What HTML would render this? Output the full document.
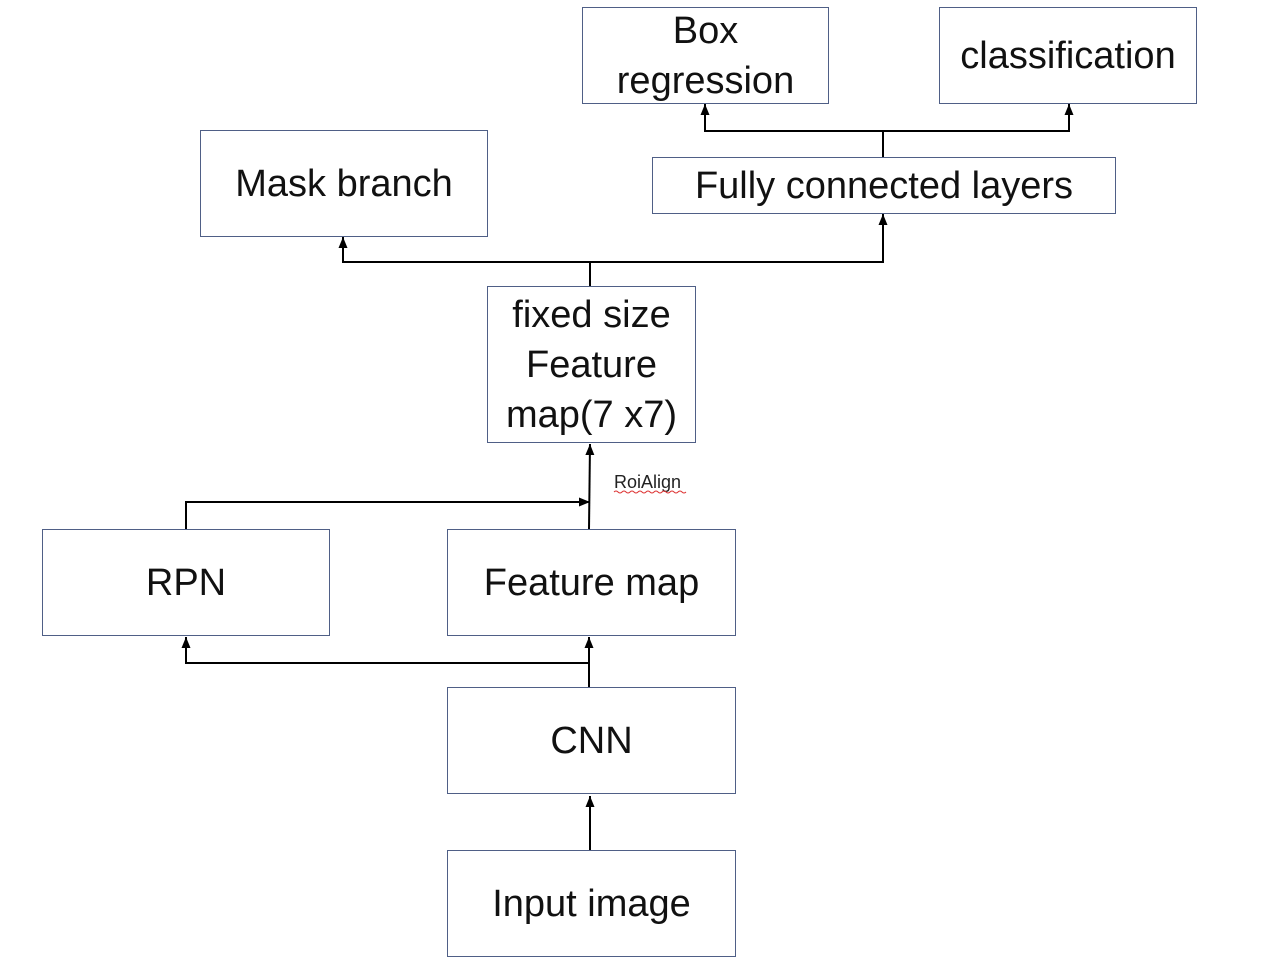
<!DOCTYPE html>
<html><head><meta charset="utf-8"><style>
body{margin:0;background:#fff;}
.b{position:absolute;border:1.5px solid #4f5f86;box-sizing:border-box;display:flex;align-items:center;justify-content:center;text-align:center;font-family:"Liberation Sans",sans-serif;font-size:38px;color:#111;line-height:50px;}
</style></head><body>
<div style="position:relative;width:1274px;height:960px;overflow:hidden;">
<svg width="1274" height="960" style="position:absolute;left:0;top:0">
<defs><marker id="a" markerUnits="userSpaceOnUse" markerWidth="12" markerHeight="10" refX="11" refY="5" orient="auto"><path d="M0,0.5 L11,5 L0,9.5 z" fill="#000"/></marker></defs>
<g stroke="#000" stroke-width="2" fill="none">
<line x1="590" y1="850" x2="590" y2="796" marker-end="url(#a)"/>
<line x1="589" y1="687" x2="589" y2="637" marker-end="url(#a)"/>
<polyline points="589,663 186,663 186,637" marker-end="url(#a)"/>
<line x1="589" y1="529" x2="590" y2="444" marker-end="url(#a)"/>
<polyline points="186,529 186,502 590,502" marker-end="url(#a)"/>
<line x1="590" y1="286" x2="590" y2="262"/>
<polyline points="590,262 343,262 343,237" marker-end="url(#a)"/>
<polyline points="590,262 883,262 883,214" marker-end="url(#a)"/>
<line x1="883" y1="157" x2="883" y2="131"/>
<polyline points="883,131 705,131 705,104" marker-end="url(#a)"/>
<polyline points="883,131 1069,131 1069,104" marker-end="url(#a)"/>
</g>
<text x="614" y="488" font-family="Liberation Sans,sans-serif" font-size="18" fill="#222">RoiAlign</text>
<path d="M614,492 q2,-2 4,0 t4,0 t4,0 t4,0 t4,0 t4,0 t4,0 t4,0 t4,0 t4,0 t4,0 t4,0 t4,0 t4,0 t4,0 t4,0 t4,0 t4,0" stroke="#d33" stroke-width="1" fill="none"/>
</svg>
<div class="b" style="left:582px;top:7px;width:247px;height:97px;">Box<br>regression</div>
<div class="b" style="left:939px;top:7px;width:258px;height:97px;">classification</div>
<div class="b" style="left:200px;top:130px;width:288px;height:107px;">Mask branch</div>
<div class="b" style="left:652px;top:157px;width:464px;height:57px;">Fully connected layers</div>
<div class="b" style="left:487px;top:286px;width:209px;height:157px;">fixed size<br>Feature<br>map(7 x7)</div>
<div class="b" style="left:42px;top:529px;width:288px;height:107px;">RPN</div>
<div class="b" style="left:447px;top:529px;width:289px;height:107px;">Feature map</div>
<div class="b" style="left:447px;top:687px;width:289px;height:107px;">CNN</div>
<div class="b" style="left:447px;top:850px;width:289px;height:107px;">Input image</div>
</div>
</body></html>
